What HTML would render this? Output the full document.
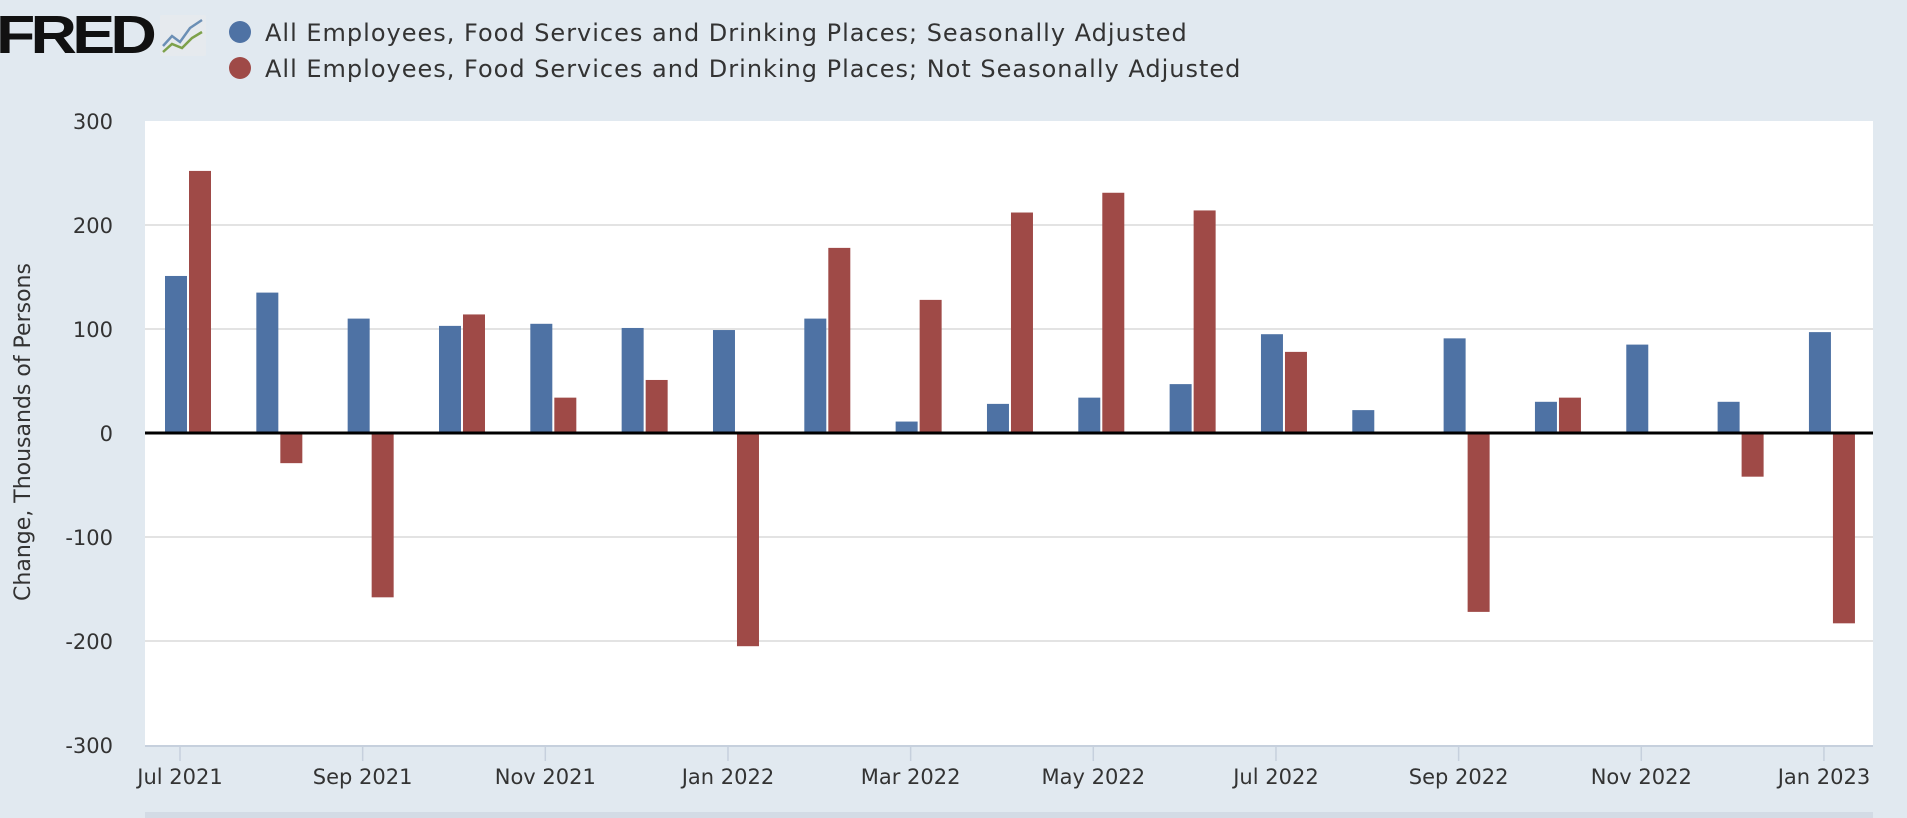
<!DOCTYPE html>
<html><head><meta charset="utf-8"><style>
html,body{margin:0;padding:0;background:#e1e9f0;width:1907px;height:818px;overflow:hidden;font-family:"Liberation Sans","DejaVu Sans",sans-serif}
</style></head><body>
<svg id="chart" width="1907" height="818" xmlns="http://www.w3.org/2000/svg">
<rect x="0" y="0" width="1907" height="818" fill="#e1e9f0"/>
<g>
<text x="-4" y="53" font-family="Liberation Sans, sans-serif" font-weight="bold" font-size="54" fill="#111" letter-spacing="-4" textLength="156" lengthAdjust="spacingAndGlyphs">FRED</text>
<rect x="160" y="15" width="46" height="41" fill="#e6eaee" rx="2"/>
<polyline points="163,46 172,36 180,42 190,28 202,20" fill="none" stroke="#6b8fb5" stroke-width="2.5"/>
<polyline points="163,52 172,44 182,48 192,38 202,32" fill="none" stroke="#7da14a" stroke-width="2.5"/>
</g>
<g>
<circle cx="240" cy="32" r="11" fill="#4e72a4"/>
<text x="265" y="41" font-size="24" fill="#333" font-family="DejaVu Sans, sans-serif" letter-spacing="1.0">All Employees, Food Services and Drinking Places; Seasonally Adjusted</text>
<circle cx="240" cy="68" r="11" fill="#9f4a47"/>
<text x="265" y="77" font-size="24" fill="#333" font-family="DejaVu Sans, sans-serif" letter-spacing="1.0">All Employees, Food Services and Drinking Places; Not Seasonally Adjusted</text>
</g>
<rect x="145" y="121" width="1728" height="624" fill="#ffffff"/>
<g id="grid"></g><g id="bars"></g><g id="axes"></g>
<text transform="translate(30,432) rotate(-90)" text-anchor="middle" font-size="22" fill="#333" font-family="DejaVu Sans, sans-serif">Change, Thousands of Persons</text>
<rect x="145" y="812" width="1728" height="6" fill="#d3dbe5"/>
</svg>
<script>
const months = ["Jul 2021","Aug 2021","Sep 2021","Oct 2021","Nov 2021","Dec 2021","Jan 2022","Feb 2022","Mar 2022","Apr 2022","May 2022","Jun 2022","Jul 2022","Aug 2022","Sep 2022","Oct 2022","Nov 2022","Dec 2022","Jan 2023"];
const seasonallyAdjusted = [151,135,110,103,105,101,99,110,11,28,34,47,95,22,91,30,85,30,97];
const notSeasonallyAdjusted = [252,-29,-158,114,34,51,-205,178,128,212,231,214,78,null,-172,34,null,-42,-183];
const yTicks = [300,200,100,0,-100,-200,-300];
const xTickLabels = ["Jul 2021","Sep 2021","Nov 2021","Jan 2022","Mar 2022","May 2022","Jul 2022","Sep 2022","Nov 2022","Jan 2023"];

const NS="http://www.w3.org/2000/svg";
const plotL=145, plotR=1873, plotT=121, plotB=745;
const yMin=-300, yMax=300;
function y(v){return plotB-(v-yMin)/(yMax-yMin)*(plotB-plotT);}
const step=91.33, x0=188;
function x(i){return x0+i*step;}
function mk(tag,attrs,parent){const e=document.createElementNS(NS,tag);for(const k in attrs)e.setAttribute(k,attrs[k]);parent.appendChild(e);return e;}
const grid=document.getElementById('grid'), bars=document.getElementById('bars'), axes=document.getElementById('axes');
yTicks.forEach(t=>{
  if(t!==0&&t!==yMax&&t!==yMin){const l=mk('line',{x1:plotL,x2:plotR,y1:y(t),y2:y(t),stroke:'#e3e3e3','stroke-width':2},grid);
  
  }
  const tx=mk('text',{x:113,y:y(t)+8,'text-anchor':'end','font-size':21,fill:'#333','font-family':'DejaVu Sans, sans-serif'},axes);
  tx.textContent=t;
  
  
});
const bw=22;
months.forEach((m,i)=>{
  const a=seasonallyAdjusted[i];
  if(a!==null){const r=mk('rect',{x:x(i)-bw-1,y:Math.min(y(a),y(0)),width:bw,height:Math.abs(y(a)-y(0)),fill:'#4e72a4'},bars);
  
  }
  const b=notSeasonallyAdjusted[i];
  if(b!==null){const r=mk('rect',{x:x(i)+1,y:Math.min(y(b),y(0)),width:bw,height:Math.abs(y(b)-y(0)),fill:'#9f4a47'},bars);
  
  }
});
const z=mk('line',{x1:plotL,x2:plotR,y1:y(0),y2:y(0),stroke:'#000','stroke-width':3},axes);


const xl=mk('line',{x1:plotL,x2:plotR,y1:plotB+1,y2:plotB+1,stroke:'#c6d0dd','stroke-width':2},axes);


xTickLabels.forEach((lab,k)=>{
  const i=months.indexOf(lab); const tx0=x(i)-8;
  const t=mk('line',{x1:tx0,x2:tx0,y1:plotB,y2:plotB+16,stroke:'#c6d0dd','stroke-width':1.5},axes);
  
  
  const tx=mk('text',{x:tx0,y:784,'text-anchor':'middle','font-size':21,fill:'#333','font-family':'DejaVu Sans, sans-serif'},axes);
  tx.textContent=lab;
  
  
});
</script>
</body></html>
